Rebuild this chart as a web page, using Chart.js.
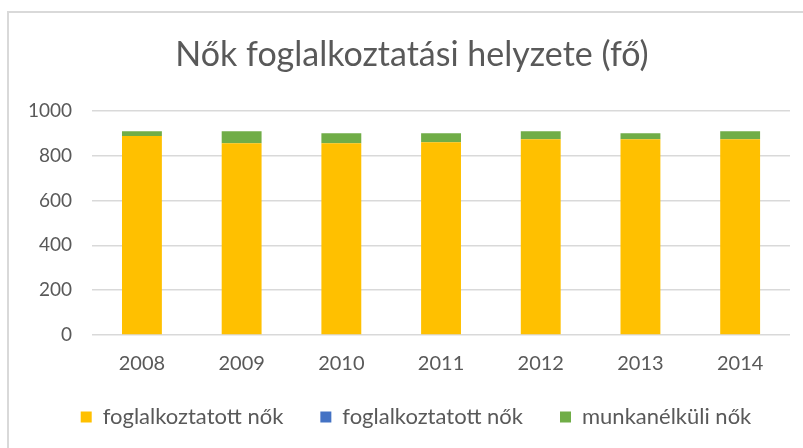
<!DOCTYPE html>
<html>
<head>
<meta charset="utf-8">
<script src="https://cdn.jsdelivr.net/npm/chart.js@4"></script>
<style>
  html, body { margin: 0; padding: 0; background: #fff; }
  #wrap { position: relative; width: 803px; height: 448px; overflow: hidden; }
  #frame { position: absolute; left: 7px; top: 11px; width: 820px; height: 460px;
           border-left: 2px solid #d9d9d9; border-top: 2px solid #d9d9d9; }
  canvas { position: absolute; left: 0; top: 0; }
</style>
</head>
<body>
<div id="wrap">
  <div id="frame"></div>
  <canvas id="chart" width="803" height="472"></canvas>
</div>
<script>
const years = ['2008', '2009', '2010', '2011', '2012', '2013', '2014'];
const employed = [888, 855, 855, 860, 873, 873, 873];
const employedDup = [0, 0, 0, 0, 0, 0, 0];
const unemployed = [21, 54, 45, 40, 36, 27, 36];
const yTicks = [0, 200, 400, 600, 800, 1000];

const textColor = '#595959';
const fontFamily = 'Lato, "Open Sans", sans-serif';

// legend padding is also used vertically, so pull the legend up a bit;
// title and legend sit slightly right of centre in the original
const nudge = {
  id: 'nudge',
  afterLayout(chart) {
    chart.legend.top -= 24;
    chart.legend.bottom -= 24;
    chart.legend.left += 17;
    chart.legend.right += 17;
    chart.titleBlock.left += 13;
    chart.titleBlock.right += 13;
  }
};

const ctx = document.getElementById('chart').getContext('2d');
new Chart(ctx, {
  type: 'bar',
  data: {
    labels: years,
    datasets: [
      { label: 'foglalkoztatott nők', data: employed, backgroundColor: '#ffc000' },
      { label: 'foglalkoztatott nők', data: employedDup, backgroundColor: '#4472c4' },
      { label: 'munkanélküli nők', data: unemployed, backgroundColor: '#70ad47' }
    ]
  },
  plugins: [nudge],
  options: {
    responsive: false,
    animation: false,
    datasets: { bar: { categoryPercentage: 1, barPercentage: 0.4 } },
    layout: { padding: { left: 8, right: 13, top: 35, bottom: 10 } },
    plugins: {
      title: {
        display: true,
        text: 'Nők foglalkoztatási helyzete (fő)',
        color: textColor,
        font: { family: fontFamily, size: 34, weight: 'normal' },
        padding: { top: 0, bottom: 35 }
      },
      legend: {
        position: 'bottom',
        labels: {
          color: textColor,
          font: { family: fontFamily, size: 22 },
          boxWidth: 11,
          boxHeight: 11,
          padding: 37
        }
      },
      tooltip: { enabled: false }
    },
    scales: {
      x: {
        stacked: true,
        grid: { display: false, drawTicks: false },
        border: { display: false },
        ticks: { color: textColor, font: { family: fontFamily, size: 20 }, padding: 17 }
      },
      y: {
        stacked: true,
        min: yTicks[0],
        max: yTicks[yTicks.length - 1],
        afterBuildTicks(axis) { axis.ticks = yTicks.map(v => ({ value: v })); },
        ticks: {
          color: textColor,
          font: { family: fontFamily, size: 19 },
          padding: 20,
          callback: v => String(v)
        },
        grid: { color: '#d9d9d9', lineWidth: 1.5, drawTicks: false },
        border: { display: false }
      }
    }
  }
});
</script>
</body>
</html>
